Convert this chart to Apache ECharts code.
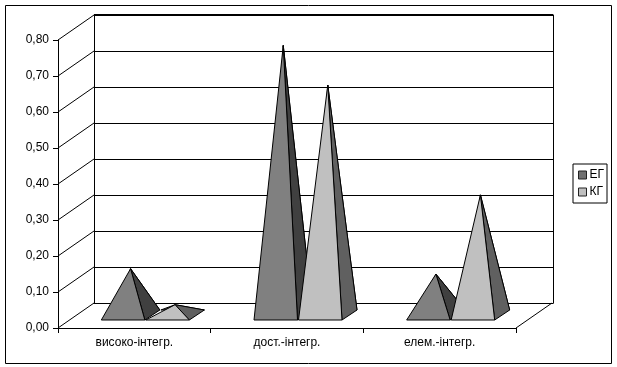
<!DOCTYPE html>
<html>
<head>
<meta charset="utf-8">
<script src="https://cdn.jsdelivr.net/npm/echarts@6/dist/echarts.min.js"></script>
<style>
html, body { margin: 0; padding: 0; background: #fff; }
#chart { width: 617px; height: 367px; }
</style>
</head>
<body>
<div id="chart"></div>
<script>
var categories = ['високо-інтегр.', 'дост.-інтегр.', 'елем.-інтегр.'];
var egValues = [0.13, 0.75, 0.115];
var kgValues = [0.03, 0.64, 0.335];
var yTicks = [0, 0.1, 0.2, 0.3, 0.4, 0.5, 0.6, 0.7, 0.8];

// 3D look: how far the back wall is shifted from the front axes
var depthX = 36;
var depthY = 25;
var baseWidth = 43.5;

var fontName = '"Liberation Sans", Arial, sans-serif';

var myChart = echarts.init(document.getElementById('chart'), null, { renderer: 'canvas' });

var line = function (x1, y1, x2, y2, width) {
    return {
        type: 'line',
        shape: { x1: x1, y1: y1, x2: x2, y2: y2 },
        style: { stroke: '#000', lineWidth: width || 1 }
    };
};

// slanted lines on the left wall and the floor
var renderWall = function (params, api) {
    var v = api.value(0);
    var left = api.coord([0, v]);
    var x0 = left[0] - api.size([1, 0])[0] / 2;
    var children = [line(x0, left[1], x0 + depthX, left[1] - depthY)];
    if (v === 0) {
        var x1 = x0 + api.size([1, 0])[0] * categories.length;
        children.push(line(x1, left[1], x1 + depthX, left[1] - depthY));
    }
    return { type: 'group', children: children };
};

var renderPyramid = function (offset, front, side) {
    return function (params, api) {
        var pos = api.coord([api.value(0), 0]);
        var top = api.coord([api.value(0), api.value(1)]);
        var fl = [pos[0] + offset, pos[1] - 8];
        var fr = [fl[0] + baseWidth, fl[1]];
        var bl = [fl[0] + 15, fl[1] - 10];
        var br = [fr[0] + 15, fr[1] - 10];
        var apex = [fl[0] + baseWidth / 2 + 7.5, top[1] - depthY / 2];
        var face = function (points, color) {
            return {
                type: 'polygon',
                shape: { points: points },
                style: { fill: color, stroke: '#000', lineWidth: 1 }
            };
        };
        return {
            type: 'group',
            children: [
                face([bl, br, apex], side),
                face([fr, br, apex], side),
                face([fl, fr, apex], front)
            ]
        };
    };
};

var option = {
    animation: false,
    backgroundColor: '#fff',
    textStyle: { fontFamily: fontName },
    graphic: [{
        type: 'rect',
        silent: true,
        z: -1,
        shape: { x: 5.5, y: 5.5, width: 606, height: 358 },
        style: { fill: '#fff', stroke: '#000', lineWidth: 1 }
    }, {
        type: 'line',
        silent: true,
        shape: { x1: 94, y1: 15, x2: 553, y2: 15 },
        style: { stroke: '#000', lineWidth: 2 }
    }],
    legend: {
        left: 573,
        top: 164,
        orient: 'vertical',
        padding: [5, 3, 5, 5],
        itemGap: 5,
        itemWidth: 8,
        itemHeight: 8,
        icon: 'rect',
        borderColor: '#000',
        borderWidth: 1,
        itemStyle: { borderColor: '#222', borderWidth: 1 },
        textStyle: { fontFamily: fontName, fontSize: 12, color: '#000', padding: [0, 0, 0, -2] },
        data: ['ЕГ', 'КГ']
    },
    grid: [
        { left: 58, top: 40, width: 458, height: 288 },
        { left: 94, top: 15, width: 459, height: 288 }
    ],
    xAxis: [{
        type: 'category',
        gridIndex: 0,
        data: categories,
        axisLine: { lineStyle: { color: '#000', width: 1 } },
        axisTick: { show: true, length: 5, alignWithLabel: false, lineStyle: { color: '#000' } },
        axisLabel: { color: '#000', fontSize: 12, margin: 9, fontFamily: fontName }
    }, {
        type: 'category',
        gridIndex: 1,
        data: categories,
        axisLine: { lineStyle: { color: '#000', width: 1 } },
        axisTick: { show: false },
        axisLabel: { show: false }
    }, {
        type: 'category',
        gridIndex: 1,
        position: 'top',
        data: categories,
        axisLine: { show: false },
        axisTick: { show: false },
        axisLabel: { show: false }
    }],
    yAxis: [{
        type: 'value',
        gridIndex: 0,
        min: 0,
        max: 0.8,
        interval: 0.1,
        axisLine: { show: true, lineStyle: { color: '#000', width: 1 } },
        axisTick: { show: true, length: 5, lineStyle: { color: '#000' } },
        splitLine: { show: false },
        axisLabel: {
            color: '#000',
            fontSize: 12,
            margin: 9,
            padding: [2, 0, 0, 0],
            fontFamily: fontName,
            formatter: function (v) { return v.toFixed(2).replace('.', ','); }
        }
    }, {
        type: 'value',
        gridIndex: 1,
        min: 0,
        max: 0.8,
        interval: 0.1,
        axisLine: { show: true, lineStyle: { color: '#000', width: 1 } },
        axisTick: { show: false },
        axisLabel: { show: false },
        splitLine: { show: true, lineStyle: { color: '#000', width: 1 } }
    }, {
        type: 'value',
        gridIndex: 1,
        position: 'right',
        min: 0,
        max: 0.8,
        interval: 0.8,
        axisLine: { show: true, onZero: false, lineStyle: { color: '#000', width: 1 } },
        axisTick: { show: false },
        axisLabel: { show: false },
        splitLine: { show: false }
    }],
    series: [{
        type: 'custom',
        name: 'wall',
        xAxisIndex: 0,
        yAxisIndex: 0,
        silent: true,
        clip: false,
        renderItem: renderWall,
        encode: { y: 0 },
        data: yTicks.map(function (v) { return [v]; }),
        z: 1
    }, {
        type: 'custom',
        name: 'ЕГ',
        xAxisIndex: 0,
        yAxisIndex: 0,
        clip: false,
        itemStyle: { color: '#707070', borderColor: '#000', borderWidth: 1 },
        renderItem: renderPyramid(-33, '#808080', '#404040'),
        encode: { x: 0, y: 1 },
        data: egValues.map(function (v, i) { return [i, v]; }),
        z: 3
    }, {
        type: 'custom',
        name: 'КГ',
        xAxisIndex: 0,
        yAxisIndex: 0,
        clip: false,
        itemStyle: { color: '#c0c0c0', borderColor: '#000', borderWidth: 1 },
        renderItem: renderPyramid(11.5, '#c0c0c0', '#606060'),
        encode: { x: 0, y: 1 },
        data: kgValues.map(function (v, i) { return [i, v]; }),
        z: 4
    }]
};

myChart.setOption(option);
window.addEventListener('resize', myChart.resize);
</script>
</body>
</html>
